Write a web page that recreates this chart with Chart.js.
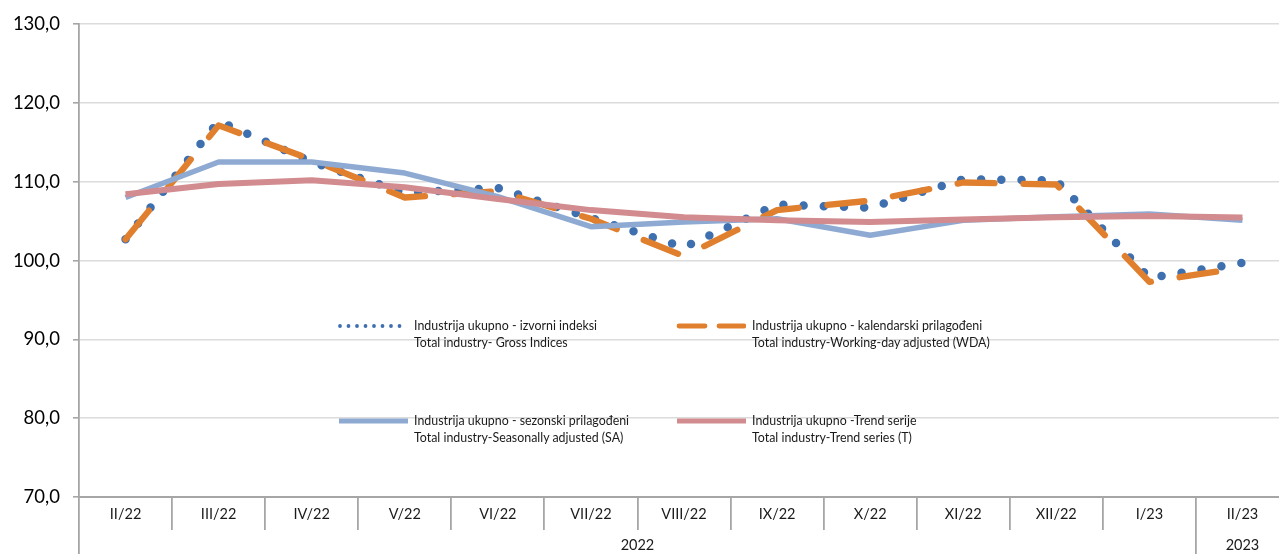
<!DOCTYPE html>
<html>
<head>
<meta charset="utf-8">
<script src="https://cdn.jsdelivr.net/npm/chart.js@4.4.1/dist/chart.umd.min.js"></script>
<style>
  html, body { margin: 0; padding: 0; background: #fff; overflow: hidden; }
  #wrap { position: relative; width: 1292px; height: 560px; }
  #c { position: absolute; left: 0; top: 0; }
  .lg { position: absolute; display: flex; align-items: flex-start; font-family: Lato, "Open Sans", sans-serif; font-size: 12.4px; line-height: 16.5px; color: #1a1a1a; white-space: nowrap; }
  .lg svg { flex: none; margin-right: 6px; }
</style>
</head>
<body>
<div id="wrap">
  <canvas id="c" width="1292" height="560"></canvas>
</div>
<script>
// ---- data ----
const categories = ['II/22','III/22','IV/22','V/22','VI/22','VII/22','VIII/22','IX/22','X/22','XI/22','XII/22','I/23','II/23'];
const grossIndices = [102.7, 117.7, 112.5, 108.6, 109.2, 105.4, 101.7, 107.1, 106.7, 110.3, 110.15, 97.8, 99.7];
const workingDayAdjusted = [102.7, 117.15, 112.8, 108.0, 108.8, 105.3, 100.55, 106.4, 107.6, 109.9, 109.65, 97.3, 99.1];
const seasonallyAdjusted = [108.0, 112.5, 112.5, 111.1, 108.1, 104.3, 104.9, 105.3, 103.2, 105.1, 105.55, 105.9, 105.1];
const trendSeries = [108.4, 109.7, 110.2, 109.3, 107.8, 106.4, 105.5, 105.1, 104.9, 105.2, 105.5, 105.65, 105.45];
const yearGroups = [{ label: '2022', first: 0, last: 11 }, { label: '2023', first: 12, last: 12 }];
const yTicks = [70, 80, 90, 100, 110, 120, 130];
const seriesLabels = [
  ['Industrija ukupno - izvorni indeksi', 'Total industry- Gross Indices'],
  ['Industrija ukupno - kalendarski prilagođeni', 'Total industry-Working-day adjusted (WDA)'],
  ['Industrija ukupno - sezonski prilagođeni', 'Total industry-Seasonally adjusted (SA)'],
  ['Industrija ukupno -Trend serije', 'Total industry-Trend series (T)']
];

// ---- styles ----
const colors = ['#3e6fae', '#e0802f', '#8eaad2', '#d28c8f'];
const FONT = 'Lato, "Open Sans", sans-serif';
const AXIS = '#a6a6a6';

// year-axis boundaries and centres, derived from the groups
const yearBoundaries = [yearGroups[0].first - 0.5].concat(yearGroups.map(g => g.last + 0.5));
const yearCentres = yearGroups.map(g => (g.first + g.last) / 2);
const yearTickValues = yearBoundaries.concat(yearCentres).sort((a, b) => a - b);
const isBoundary = v => yearBoundaries.some(b => Math.abs(b - v) < 1e-9);

const ctx = document.getElementById('c').getContext('2d');
new Chart(ctx, {
  type: 'line',
  data: {
    labels: categories,
    datasets: [
      { label: seriesLabels[0].join(' '), data: grossIndices, borderColor: colors[0], borderWidth: 8.5,
        borderDash: [0, 20.2], borderCapStyle: 'round', borderJoinStyle: 'round', order: 4 },
      { label: seriesLabels[1].join(' '), data: workingDayAdjusted, borderColor: colors[1], borderWidth: 6.3,
        borderDash: [37, 29], borderCapStyle: 'round', borderJoinStyle: 'round', order: 3 },
      { label: seriesLabels[2].join(' '), data: seasonallyAdjusted, borderColor: colors[2], borderWidth: 5.5,
        borderJoinStyle: 'round', order: 2 },
      { label: seriesLabels[3].join(' '), data: trendSeries, borderColor: colors[3], borderWidth: 6,
        borderJoinStyle: 'round', order: 1 }
    ]
  },
  options: {
    responsive: false,
    animation: false,
    devicePixelRatio: 1,
    layout: { padding: { top: 24, right: 3, left: 0, bottom: 0 } },
    elements: { point: { radius: 0, hoverRadius: 0 }, line: { tension: 0, fill: false } },
    plugins: { legend: { display: false }, tooltip: { enabled: false } },
    scales: {
      y: {
        min: 70, max: 130,
        afterBuildTicks: s => { s.ticks = yTicks.map(v => ({ value: v })); },
        afterFit: s => { s.width = 79; },
        ticks: { font: { family: FONT, size: 18.5 }, color: '#000', padding: 13,
          callback: v => Number(v).toFixed(1).replace('.', ',') },
        grid: { color: '#dcdcdc', lineWidth: 1.6, tickLength: 6, tickColor: AXIS, tickWidth: 1.6 },
        border: { color: AXIS, width: 1.8 }
      },
      x: {
        type: 'category',
        offset: true,
        afterFit: s => { s.height = 33; },
        ticks: { font: { family: FONT, size: 14.5 }, color: '#1a1a1a', padding: -24.5, maxRotation: 0, autoSkip: false },
        grid: { offset: true, drawOnChartArea: false, tickLength: 33, color: AXIS, lineWidth: 1.8 },
        border: { color: AXIS, width: 2 }
      },
      x2: {
        type: 'linear',
        position: 'bottom',
        min: yearBoundaries[0], max: yearBoundaries[yearBoundaries.length - 1],
        afterBuildTicks: s => { s.ticks = yearTickValues.map(v => ({ value: v })); },
        afterFit: s => { s.height = 30; },
        ticks: { font: { family: FONT, size: 14.5 }, color: '#1a1a1a', padding: -23, maxRotation: 0, autoSkip: false,
          callback: v => { const i = yearCentres.findIndex(c => Math.abs(c - v) < 1e-9); return i >= 0 ? yearGroups[i].label : ''; } },
        grid: { drawOnChartArea: false, tickLength: 30, lineWidth: 1.8,
          color: c => (c.tick && isBoundary(c.tick.value)) ? AXIS : 'rgba(0,0,0,0)' },
        border: { display: false }
      }
    }
  }
});

// ---- legend (HTML, built from the series labels/styles) ----
const legendPos = [[338, 318], [676, 318], [338, 413], [676, 413]];
const sampleSvg = [
  '<line x1="2" y1="8" x2="70" y2="8" stroke="' + colors[0] + '" stroke-width="3.8" stroke-linecap="round" stroke-dasharray="0 8.5"/>',
  '<line x1="3" y1="8" x2="68" y2="8" stroke="' + colors[1] + '" stroke-width="4.8" stroke-linecap="round" stroke-dasharray="26 14"/>',
  '<line x1="1" y1="8" x2="70" y2="8" stroke="' + colors[2] + '" stroke-width="4.8"/>',
  '<line x1="1" y1="8" x2="70" y2="8" stroke="' + colors[3] + '" stroke-width="4.8"/>'
];
const wrap = document.getElementById('wrap');
seriesLabels.forEach((lines, i) => {
  const d = document.createElement('div');
  d.className = 'lg';
  d.style.left = legendPos[i][0] + 'px';
  d.style.top = legendPos[i][1] + 'px';
  d.innerHTML = '<svg width="70" height="16">' + sampleSvg[i] + '</svg><div>' + lines.join('<br>') + '</div>';
  wrap.appendChild(d);
});
</script>
</body>
</html>
